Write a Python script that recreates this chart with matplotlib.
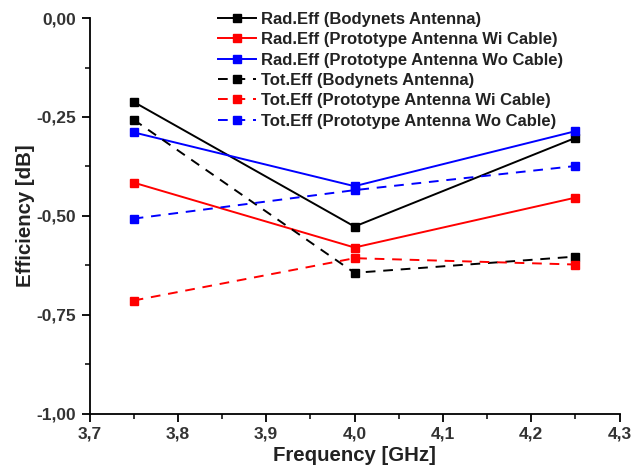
import numpy as np
import matplotlib
matplotlib.use("Agg")
import matplotlib.pyplot as plt
from matplotlib.ticker import MultipleLocator, FuncFormatter

plt.rcParams['font.family'] = ['Liberation Sans', 'DejaVu Sans']

# frequences mesurees (GHz)
freq = [3.75, 4.0, 4.25]

# efficacite de rayonnement (dB)
rad_bodynets = [-0.212, -0.527, -0.303]
rad_wi_cable = [-0.416, -0.580, -0.454]
rad_wo_cable = [-0.289, -0.425, -0.286]

# efficacite totale (dB)
tot_bodynets = [-0.257, -0.644, -0.603]
tot_wi_cable = [-0.714, -0.607, -0.623]
tot_wo_cable = [-0.507, -0.435, -0.374]

labels = ["Rad.Eff (Bodynets Antenna)",
          "Rad.Eff (Prototype Antenna Wi Cable)",
          "Rad.Eff (Prototype Antenna Wo Cable)",
          "Tot.Eff (Bodynets Antenna)",
          "Tot.Eff (Prototype Antenna Wi Cable)",
          "Tot.Eff (Prototype Antenna Wo Cable)"]

series = [rad_bodynets, rad_wi_cable, rad_wo_cable,
          tot_bodynets, tot_wi_cable, tot_wo_cable]
colors = ["black", "#ff0000", "#0000ff", "black", "#ff0000", "#0000ff"]
styles = ["-", "-", "-", (0, (5, 4)), (0, (5, 4)), (0, (5, 4))]

fig = plt.figure(figsize=(6.44, 4.69), dpi=100)
ax = fig.add_axes([0.139, 0.118, 0.823, 0.8435])

for vals, c, ls, lab in zip(series, colors, styles, labels):
    ax.plot(freq, vals, color=c, linestyle=ls, linewidth=1.4,
            marker="s", markersize=6, markerfacecolor=c, markeredgecolor=c,
            label=lab)

ax.set_xlim(3.7, 4.3)
ax.set_ylim(-1.0, 0.0)
ax.xaxis.set_major_locator(MultipleLocator(0.1))
ax.xaxis.set_minor_locator(MultipleLocator(0.05))
ax.yaxis.set_major_locator(MultipleLocator(0.25))
ax.yaxis.set_minor_locator(MultipleLocator(0.125))
ax.xaxis.set_major_formatter(FuncFormatter(lambda v, p: f"{v:.1f}".replace(".", ",")))
ax.yaxis.set_major_formatter(FuncFormatter(lambda v, p: f"{v:.2f}".replace(".", ",")))

for s in ["top", "right"]:
    ax.spines[s].set_visible(False)
for s in ["left", "bottom"]:
    ax.spines[s].set_linewidth(1.3)

ax.tick_params(which="major", direction="out", length=6, width=1.3, labelsize=12.5)
ax.tick_params(which="minor", direction="out", length=3.5, width=1.1)
for t in ax.get_xticklabels() + ax.get_yticklabels():
    t.set_fontweight("bold")
    t.set_color("#333333")

ax.set_xlabel("Frequency [GHz]", fontsize=14.7, fontweight="bold", color="#222222", labelpad=3)
ax.set_ylabel("Efficiency [dB]", fontsize=14.7, fontweight="bold", color="#222222", labelpad=1)

leg = ax.legend(loc="upper left", bbox_to_anchor=(0.22, 1.045), frameon=False,
                fontsize=12, handlelength=2.3, handletextpad=0.3,
                labelspacing=0.32, borderpad=0.2)
for t in leg.get_texts():
    t.set_fontweight("bold")
    t.set_color("#222222")

fig.savefig("out.png", dpi=100)
